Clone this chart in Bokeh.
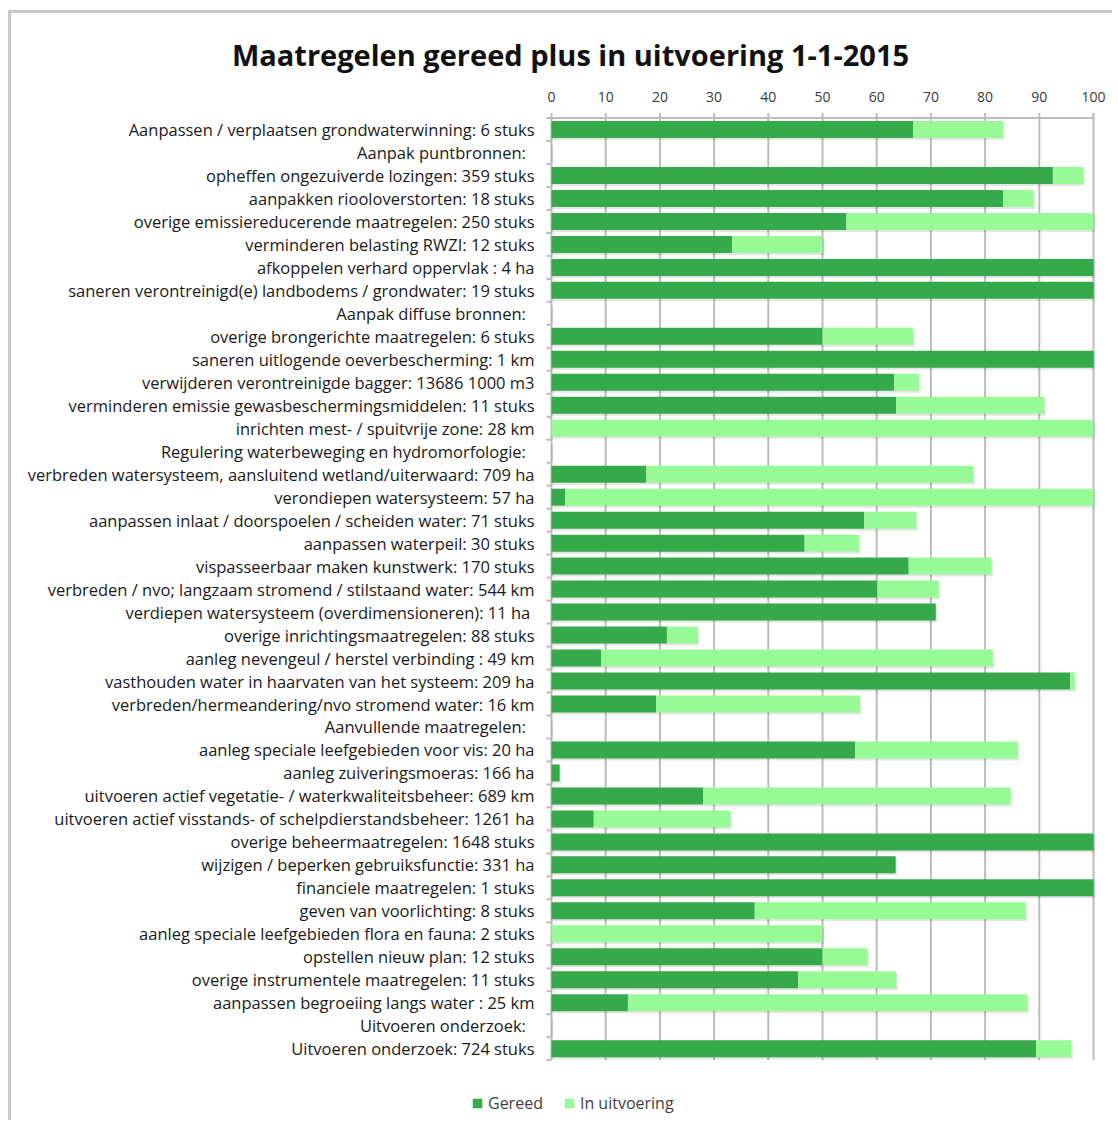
from bokeh.plotting import figure
from bokeh.models import Range1d, Legend, LegendItem, ColumnDataSource, Label
from bokeh.core.properties import value
from bokeh.embed import file_html
from bokeh.resources import INLINE

NBSP = "\u00a0\u00a0"
categories = [
    "Aanpassen / verplaatsen grondwaterwinning: 6 stuks",
    "Aanpak puntbronnen:" + NBSP,
    "opheffen ongezuiverde lozingen: 359 stuks",
    "aanpakken riooloverstorten: 18 stuks",
    "overige emissiereducerende maatregelen: 250 stuks",
    "verminderen belasting RWZI: 12 stuks",
    "afkoppelen verhard oppervlak : 4 ha",
    "saneren verontreinigd(e) landbodems / grondwater: 19 stuks",
    "Aanpak diffuse bronnen:" + NBSP,
    "overige brongerichte maatregelen: 6 stuks",
    "saneren uitlogende oeverbescherming: 1 km",
    "verwijderen verontreinigde bagger: 13686 1000 m3",
    "verminderen emissie gewasbeschermingsmiddelen: 11 stuks",
    "inrichten mest- / spuitvrije zone: 28 km",
    "Regulering waterbeweging en hydromorfologie:" + NBSP,
    "verbreden watersysteem, aansluitend wetland/uiterwaard: 709 ha",
    "verondiepen watersysteem: 57 ha",
    "aanpassen inlaat / doorspoelen / scheiden water: 71 stuks",
    "aanpassen waterpeil: 30 stuks",
    "vispasseerbaar maken kunstwerk: 170 stuks",
    "verbreden / nvo; langzaam stromend / stilstaand water: 544 km",
    "verdiepen watersysteem  (overdimensioneren): 11 ha",
    "overige inrichtingsmaatregelen: 88 stuks",
    "aanleg nevengeul / herstel verbinding : 49 km",
    "vasthouden water in haarvaten van het systeem: 209 ha",
    "verbreden/hermeandering/nvo stromend water: 16 km",
    "Aanvullende maatregelen:" + NBSP,
    "aanleg speciale leefgebieden voor vis: 20 ha",
    "aanleg zuiveringsmoeras: 166 ha",
    "uitvoeren actief vegetatie- / waterkwaliteitsbeheer: 689 km",
    "uitvoeren actief visstands- of schelpdierstandsbeheer: 1261 ha",
    "overige beheermaatregelen: 1648 stuks",
    "wijzigen / beperken gebruiksfunctie: 331 ha",
    "financiele maatregelen: 1 stuks",
    "geven van voorlichting: 8 stuks",
    "aanleg speciale leefgebieden flora en fauna: 2 stuks",
    "opstellen nieuw plan: 12 stuks",
    "overige instrumentele maatregelen: 11 stuks",
    "aanpassen begroeiing langs water : 25 km",
    "Uitvoeren onderzoek:" + NBSP,
    "Uitvoeren onderzoek: 724 stuks",
]

gereed = [66.7, 0, 92.5, 83.3, 54.4, 33.3, 100, 100, 0, 50.0, 100, 63.2, 63.6, 0, 0,
          17.5, 2.5, 57.7, 46.7, 65.9, 60.1, 70.9, 21.3, 9.2, 95.7, 19.3, 0,
          56.0, 1.5, 28.0, 7.8, 100, 63.5, 100, 37.5, 0, 50.0, 45.5, 14.1, 0, 89.4]

in_uitvoering = [16.6, 0, 5.6, 5.6, 45.6, 16.7, 0, 0, 0, 16.7, 0, 4.6, 27.3, 100, 0,
                 60.3, 97.5, 9.6, 10.0, 15.3, 11.3, 0, 5.7, 72.2, 0.8, 37.6, 0,
                 30.0, 0, 56.7, 25.2, 0, 0, 0, 50.0, 50.0, 8.3, 18.1, 73.7, 0, 6.5]

x_ticks = [0, 10, 20, 30, 40, 50, 60, 70, 80, 90, 100]
title_text = "Maatregelen gereed plus in uitvoering 1-1-2015"
series_names = ["Gereed", "In uitvoering"]

DARK = "#36aa4a"
LIGHT = "#98fa96"
GRID = "#bcbcbc"
FONT = "Open Sans"

# layout (canvas pixels)
W, H = 1104, 1110
PX0, PX100 = 540, 1082          # x = 0 and x = 100
ROW0, ROWSTEP = 116, 22.98      # centre of first row, row pitch
PXU = (PX100 - PX0) / 100.0


def xd(px):
    return (px - PX0) / PXU


def yd(py):
    return (py - ROW0) / ROWSTEP


n = len(categories)
ys = list(range(n))
totals = [g + u for g, u in zip(gereed, in_uitvoering)]
src = ColumnDataSource(dict(y=ys, g=gereed, t=totals, zero=[0] * n, cat=categories))

p = figure(width=W, height=H, output_backend="svg", toolbar_location=None,
           x_range=Range1d(xd(0), xd(W)), y_range=Range1d(yd(H), yd(0)),
           x_axis_type=None, y_axis_type=None,
           min_border=0, min_border_left=0, min_border_right=0,
           min_border_top=0, min_border_bottom=0)
p.styles = {"border-top": "3px solid #c8c8c8", "border-left": "3px solid #c8c8c8",
            "margin-top": "10px", "margin-left": "8px"}
p.outline_line_color = None
p.background_fill_color = "white"
p.border_fill_color = "white"

top = -0.5
bottom = n - 0.5

# vertical grid lines (with small tick above the top axis line)
p.segment(x0=x_ticks, x1=x_ticks, y0=[top - 5 / ROWSTEP] * len(x_ticks), y1=[bottom] * len(x_ticks),
          line_color=GRID, line_width=2, line_cap="butt")
# top axis line
p.segment(x0=[x_ticks[0]], x1=[x_ticks[-1]], y0=[top], y1=[top], line_color=GRID, line_width=2)
# category separator ticks on the left axis
seps = [i - 0.5 for i in range(n + 1)]
p.segment(x0=[xd(PX0 - 5)] * len(seps), x1=[0] * len(seps), y0=seps, y1=seps,
          line_color=GRID, line_width=2)

# soft shadow under bars
sh = 2 / ROWSTEP
p.hbar(y=[v + sh for v in ys], left=[0] * n, right=[t + 0.3 for t in totals], height=0.74,
       fill_color="#000000", fill_alpha=0.10, line_color=None)

r1 = p.hbar(y="y", left="zero", right="g", height=0.74, source=src,
            fill_color=DARK, line_color=None)
r2 = p.hbar(y="y", left="g", right="t", height=0.74, source=src,
            fill_color=LIGHT, line_color=None)

# x tick labels
p.text(x=x_ticks, y=[yd(83)] * len(x_ticks), text=[str(t) for t in x_ticks],
       text_align="center", text_baseline="middle", text_font=value(FONT),
       text_font_size="14px", text_color="#3a3a3a")

# category labels
p.text(x=xd(PX0 - 17), y="y", text="cat", source=src,
       text_align="right", text_baseline="middle", text_font=value(FONT),
       text_font_size="16.5px", text_color="#1a1a1a")

p.add_layout(Label(x=xd(559), y=yd(41), text=title_text, text_align="center",
                   text_baseline="middle", text_font=FONT, text_font_size="29px",
                   text_font_style="bold", text_color="#111111"))

legend = Legend(items=[LegendItem(label=series_names[0], renderers=[r1]),
                       LegendItem(label=series_names[1], renderers=[r2])],
                orientation="horizontal", location=(460, 9),
                border_line_color=None, background_fill_alpha=0,
                label_text_font=FONT, label_text_font_size="16px", label_text_color="#404040",
                glyph_width=12, glyph_height=12, spacing=20, label_standoff=5, padding=4)
p.add_layout(legend, "center")

open("out.html", "w").write(file_html(p, INLINE))
